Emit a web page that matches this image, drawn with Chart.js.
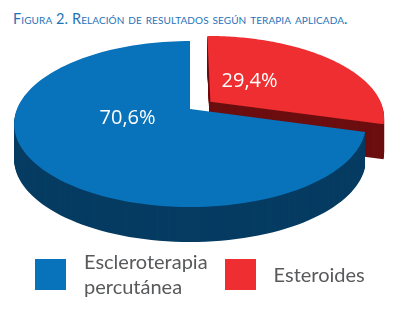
<!DOCTYPE html>
<html>
<head>
<meta charset="utf-8">
<script src="https://cdn.jsdelivr.net/npm/chart.js@4"></script>
<style>
  html, body { margin: 0; padding: 0; background: #fff; }
  #wrap { position: relative; width: 394px; height: 309px; overflow: hidden; }
  #title {
    position: absolute; left: 13px; top: 10px;
    font-family: Lato, sans-serif; font-size: 14.5px; font-variant: small-caps;
    color: #1f73b9; white-space: nowrap; letter-spacing: 0.1px;
  }
  #c { position: absolute; left: 0; top: 0; }
  #legend {
    position: absolute; left: 35px; top: 246px; height: 56px;
    display: flex; align-items: center;
    font-family: Lato, sans-serif; font-size: 20px; line-height: 25px; color: #58595b;
  }
  .item { display: flex; align-items: center; margin-right: 17px; }
  .box { width: 31px; height: 31px; margin-right: 18px; flex: none; }
</style>
</head>
<body>
<div id="wrap">
  <div id="title">Figura 2. Relación de resultados según terapia aplicada.</div>
  <canvas id="c" width="394" height="309"></canvas>
  <div id="legend"></div>
</div>
<script>
const labels = [['Escleroterapia', 'percutánea'], 'Esteroides'];
const shares = [70.6, 29.4];
const topColors = ['#0872ba', '#ee2e31'];
const sideColors = ['#063c62', '#6c0e10'];
const explode = [0, 26];

// fake 3D: tilt + perspective applied to the library's arc geometry
const FLATTEN = 0.464;   // vertical squash of the disc
const PERSP = 0.181;     // near edge bigger than far edge
const DEPTH = 35;        // thickness in px
const labelTurn = [20, -11];   // degrees nudge of the % labels
const labelDist = 0.37;

function project(cx, cy, R, px, py) {
    const s = (px - cx) / R, t = (py - cy) / R;
    const w = 1 - PERSP * t;
    return [cx + R * s / w, cy + R * FLATTEN * t / w];
}

function sectorPath(ctx, arc, dy) {
    const { x, y, startAngle, endAngle, outerRadius: R } = arc;
    const o = arc.options.offset || 0;
    const mid = (startAngle + endAngle) / 2;
    const ox = x + o * Math.cos(mid), oy = y + o * Math.sin(mid);
    const steps = 120;
    ctx.beginPath();
    let p = project(x, y, R, ox, oy);
    ctx.moveTo(p[0], p[1] + dy);
    for (let i = 0; i <= steps; i++) {
        const a = startAngle + (endAngle - startAngle) * i / steps;
        p = project(x, y, R, ox + R * Math.cos(a), oy + R * Math.sin(a));
        ctx.lineTo(p[0], p[1] + dy);
    }
    ctx.closePath();
}

const pie3d = {
    id: 'pie3d',
    beforeDatasetsDraw(chart) {
        const ctx = chart.ctx;
        const arcs = chart.getDatasetMeta(0).data;
        const order = arcs.map((_, i) => i).reverse();
        ctx.save();
        // sides first (back slice, then front slice), then the tops
        order.forEach(i => {
            ctx.fillStyle = sideColors[i];
            for (let d = DEPTH; d >= 1; d--) {
                sectorPath(ctx, arcs[i], d);
                ctx.fill();
            }
        });
        order.forEach(i => {
            ctx.fillStyle = topColors[i];
            sectorPath(ctx, arcs[i], 0);
            ctx.fill();
        });
        // % labels
        ctx.fillStyle = '#fff';
        ctx.font = '20px "Open Sans", sans-serif';
        ctx.textAlign = 'center';
        ctx.textBaseline = 'middle';
        arcs.forEach((arc, i) => {
            const { x, y, startAngle, endAngle, outerRadius: R } = arc;
            const o = arc.options.offset || 0;
            const mid = (startAngle + endAngle) / 2;
            const a = mid + labelTurn[i] * Math.PI / 180;
            const px = x + o * Math.cos(mid) + R * labelDist * Math.cos(a);
            const py = y + o * Math.sin(mid) + R * labelDist * Math.sin(a);
            const p = project(x, y, R, px, py);
            ctx.fillText(shares[i].toFixed(1).replace('.', ',') + '%', p[0], p[1]);
        });
        ctx.restore();
        return false;
    },
};

const chart = new Chart(document.getElementById('c'), {
    type: 'pie',
    plugins: [pie3d],
    data: {
        labels,
        datasets: [{
            data: shares,
            backgroundColor: topColors,
            borderWidth: 0,
            offset: explode,
        }],
    },
    options: {
        responsive: false,
        devicePixelRatio: 1,
        animation: false,
        events: [],
        rotation: shares[1] * 3.6,
        radius: 173,
        layout: { padding: { left: 0, right: 14, top: 0, bottom: 91 } },
        plugins: {
            legend: { display: false },
            title: { display: false },
            tooltip: { enabled: false },
        },
    },
});

// html legend from the same arrays
const legend = document.getElementById('legend');
labels.forEach((lab, i) => {
    const item = document.createElement('div');
    item.className = 'item';
    const box = document.createElement('div');
    box.className = 'box';
    box.style.background = topColors[i];
    const txt = document.createElement('div');
    txt.innerHTML = [].concat(lab).join('<br>');
    item.appendChild(box);
    item.appendChild(txt);
    legend.appendChild(item);
});
</script>
</body>
</html>
